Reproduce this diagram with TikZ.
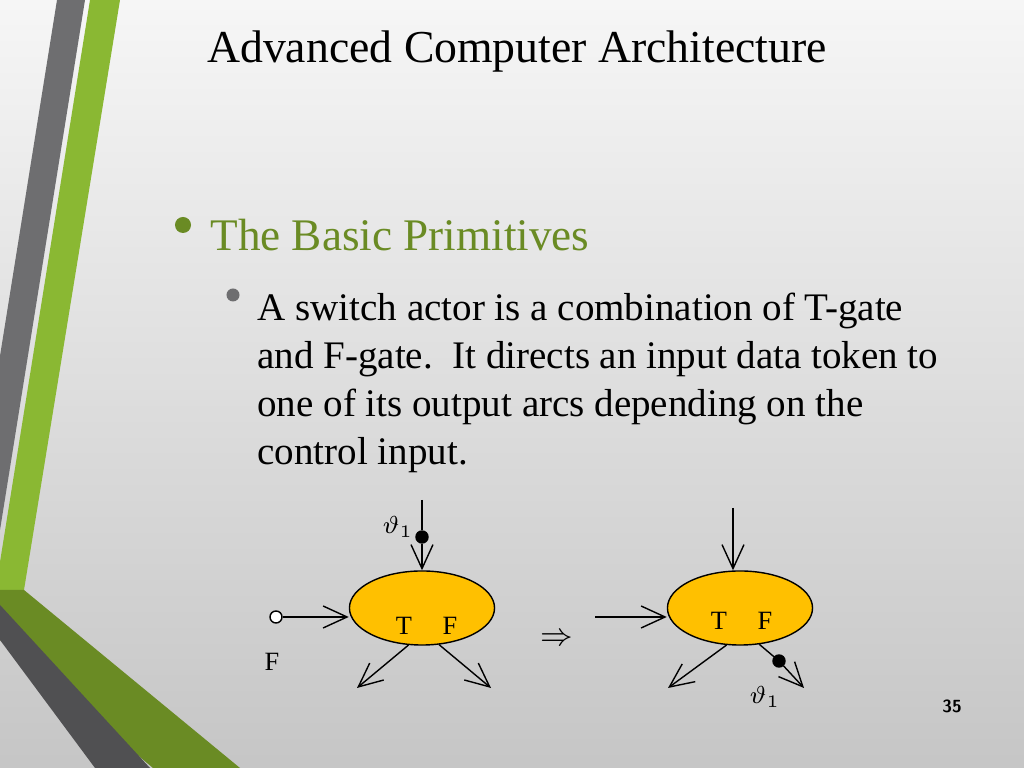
\documentclass[tikz,border=0pt]{standalone}
\usepackage{fontspec}
\setmainfont{Liberation Serif}
\usetikzlibrary{positioning,arrows.meta,shapes.geometric}
\definecolor{leaf}{HTML}{8AB833}
\definecolor{olive}{HTML}{6A8B24}
\definecolor{stone}{HTML}{6E6E70}
\definecolor{slate}{HTML}{505052}
\definecolor{gold}{HTML}{FFC000}
\tikzset{gate node/.style={ellipse,draw,fill=gold,minimum width=1.45cm,minimum height=0.74cm,inner sep=0pt},
         arc/.style={-{Straight Barb[length=2.4mm,width=2.2mm]},thin},
         token/.style={circle,draw,fill=black,minimum size=0.12cm,inner sep=0pt},
         lbl/.style={font=\fontsize{7.5}{8}\selectfont},
            }
\begin{document}
\begin{tikzpicture}[x=0.01cm,y=-0.01cm]
    \useasboundingbox (0,0) rectangle (1024,768);
    \shade[shading angle=225,top color=white!93!gray,bottom color=gray!45] (0,0) rectangle (1024,768);

    % side bands
    \fill[stone] (57,0) -- (85,0) -- (0,530) -- (0,356) -- cycle;
    \fill[leaf] (90,0) -- (120,0) -- (24,590) -- (0,590) -- (0,562) -- cycle;
    \fill[olive] (0,590) -- (24,590) -- (240,768) -- (153,768) -- (0,640) -- cycle;
    \fill[slate] (0,605) -- (0,640) -- (95,768) -- (150,768) -- cycle;

    % text
    \node[font=\fontsize{13}{15}\selectfont] (title) at (517,52) {Advanced Computer Architecture};
    \fill[olive] (183,225) circle (0.08cm);
    \node[anchor=west,text=olive,font=\fontsize{12.85}{14}\selectfont] (head) at (198,235) {The Basic Primitives};
    \fill[stone] (233,295) circle (0.065cm);
    \node[anchor=north west,align=left,font=\fontsize{11.1}{13.6}\selectfont] (body) at (245,281)
        {A switch actor is a combination of T-gate\\and F-gate.\ \ It directs an input data token to\\one of its output arcs depending on the\\control input.};

    % left actor
    \node[gate node] (g1) at (422,608) {};
    \node[lbl] (t1) at (404,626) {T};
    \node[lbl] (f1) at (450,626) {F};
    \coordinate (c1) at (422,500);
    \node[token] (d1) at (422,537) {};
    \node[lbl] (th1) at (398,527) {$\vartheta_{1}$};
    \node[circle,draw,fill=white,minimum size=0.12cm,inner sep=0pt] (e1) at (276,617) {};
    \node[lbl] (fl) at (272,662) {F};
    \coordinate (o1) at (357,688);
    \coordinate (o2) at (491,688);
    \draw[thin] (c1) -- (d1);
    \draw[arc] (d1) -- (g1.north);
    \draw[arc] (e1) -- (g1.west |- e1);
    \draw[arc] (g1.250) -- (o1);
    \draw[arc] (g1.295) -- (o2);

    \node[font=\fontsize{9}{10}\selectfont] (imp) at (557,640) {$\Rightarrow$};

    % right actor
    \node[gate node] (g2) at (740,608) {};
    \node[lbl] (t2) at (719,621) {T};
    \node[lbl] (f2) at (765,621) {F};
    \coordinate (c2) at (733,508);
    \coordinate (e2) at (595,617);
    \coordinate (o3) at (668,688);
    \coordinate (o4) at (804,688);
    \node[token] (d2) at (779,661) {};
    \node[lbl] (th2) at (765,697) {$\vartheta_{1}$};
    \draw[arc] (c2) -- (g2.north -| c2);
    \draw[arc] (e2) -- (g2.west |- e2);
    \draw[arc] (g2.250) -- (o3);
    \draw[thin] (g2.298) -- (d2);
    \draw[arc] (d2) -- (o4);

    \node[font=\sffamily\bfseries\fontsize{5}{6}\selectfont] (page) at (952,706) {35};
\end{tikzpicture}
\end{document}
